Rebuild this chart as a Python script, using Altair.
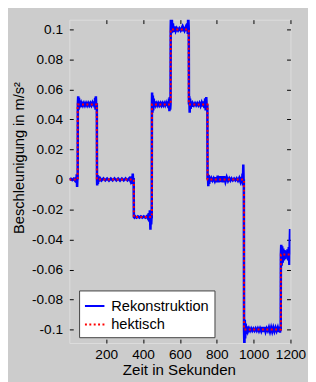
import altair as alt
import pandas as pd

# ---- data ----
x_ticks = [200, 400, 600, 800, 1000, 1200]
y_ticks = [-0.1, -0.08, -0.06, -0.04, -0.02, 0, 0.02, 0.04, 0.06, 0.08, 0.1]
series_names = ["Rekonstruktion", "hektisch"]

# "hektisch": ideal step profile
red_t = [0, 45, 45, 149, 149, 350, 350, 448, 448, 550, 550, 648, 648, 750, 750, 948, 948, 1148, 1148, 1200]
red_v = [0, 0, 0.05, 0.05, 0, 0, -0.025, -0.025, 0.05, 0.05, 0.1, 0.1, 0.05, 0.05, 0, 0, -0.1, -0.1, -0.05, -0.05]

# "Rekonstruktion": reconstructed signal with ringing (time, value)
blue = [
    (0, 0), (8, 0.0005), (16, -0.0004), (24, 0.0005), (30, -0.0006), (35, 0.001), (38, -0.002), (40, 0.0035), (42, -0.005), (44, 0.002), (45, 0),
    (46, 0.05), (48, 0.0555), (50, 0.0465), (52, 0.0545), (54, 0.0475), (57, 0.0525), (60, 0.0485), (65, 0.051), (70, 0.0494), (75, 0.0508), (80, 0.0493), (85, 0.0508), (90, 0.0494), (95, 0.0508), (100, 0.0493), (105, 0.0508), (110, 0.0494), (115, 0.0508), (120, 0.0494), (125, 0.051), (130, 0.049), (134, 0.052), (137, 0.048), (140, 0.0545), (142, 0.0465), (144, 0.0555), (146, 0.047), (148, 0.05), (149, 0.05),
    (150, 0), (151, -0.004), (153, 0.003), (155, -0.003), (158, 0.002), (162, -0.0012), (167, 0.0008), (175, -0.0006), (185, 0.0007), (195, -0.0006), (205, 0.0006), (215, -0.0007), (225, 0.0006), (235, -0.0006), (245, 0.0007), (255, -0.0006), (265, 0.0006), (275, -0.0007), (285, 0.0006), (295, -0.0006), (305, 0.0007), (315, -0.0006), (325, 0.0008), (332, -0.0012), (337, 0.002), (341, -0.003), (344, 0.004), (347, -0.003), (349, 0.001),
    (350, -0.025), (353, -0.0254), (358, -0.0246), (365, -0.0254), (372, -0.0246), (380, -0.0254), (388, -0.0246), (396, -0.0254), (404, -0.0246), (412, -0.0254), (420, -0.0245), (427, -0.026), (431, -0.0225), (434, -0.028), (437, -0.0205), (440, -0.0335), (442, -0.021), (444, -0.03), (446, -0.025), (447, -0.025),
    (448, 0.05), (449, 0.058), (451, 0.0445), (453, 0.056), (455, 0.046), (458, 0.054), (461, 0.048), (465, 0.052), (470, 0.0494), (475, 0.0508), (480, 0.0493), (485, 0.0508), (490, 0.0494), (495, 0.0508), (500, 0.0493), (505, 0.0508), (510, 0.0494), (515, 0.0508), (520, 0.0494), (525, 0.051), (530, 0.049), (534, 0.052), (538, 0.0475), (541, 0.054), (543, 0.0455), (545, 0.055), (547, 0.0465), (549, 0.05),
    (550, 0.1), (552, 0.112), (554, 0.0975), (556, 0.108), (559, 0.098), (562, 0.104), (566, 0.0985), (571, 0.102), (577, 0.099), (583, 0.1008), (590, 0.0993), (597, 0.1008), (604, 0.0993), (611, 0.1012), (615, 0.0988), (618, 0.1012), (625, 0.0992), (631, 0.1012), (636, 0.099), (640, 0.104), (643, 0.097), (645, 0.11), (648, 0.1),
    (649, 0.05), (651, 0.0555), (653, 0.0445), (655, 0.054), (658, 0.047), (661, 0.052), (665, 0.0485), (670, 0.0508), (676, 0.0494), (682, 0.0508), (688, 0.0494), (694, 0.0508), (700, 0.0494), (706, 0.051), (712, 0.049), (718, 0.0512), (724, 0.0488), (729, 0.052), (733, 0.0475), (737, 0.054), (740, 0.046), (743, 0.055), (746, 0.047), (749, 0.05),
    (750, 0), (752, 0.0037), (754, -0.0045), (756, 0.003), (759, -0.003), (762, 0.002), (766, -0.0012), (771, 0.0008), (777, -0.0007), (783, 0.0008), (789, -0.001), (795, 0.0015), (800, -0.0018), (805, 0.0025), (810, -0.0018), (815, 0.0022), (820, -0.0016), (826, 0.0022), (833, -0.0018), (840, 0.0022), (847, -0.0015), (854, 0.0015), (861, -0.001), (868, 0.0008), (874, -0.0007), (880, 0.0007), (887, -0.0006), (894, 0.0006), (901, -0.0006), (908, 0.0007), (915, -0.0008), (922, 0.001), (928, -0.0012), (933, 0.0018), (937, -0.0025), (940, 0.004), (942, -0.004), (944, 0.01), (946, -0.003), (947, 0),
    (948, -0.1), (950, -0.112), (952, -0.0935), (954, -0.106), (957, -0.096), (960, -0.103), (964, -0.098), (969, -0.1012), (975, -0.0992), (981, -0.1008), (987, -0.0993), (993, -0.1008), (999, -0.0994), (1005, -0.1008), (1011, -0.0993), (1017, -0.1008), (1023, -0.0992), (1029, -0.101), (1035, -0.0992), (1041, -0.101), (1047, -0.0984), (1053, -0.1016), (1059, -0.0984), (1065, -0.1014), (1071, -0.0992), (1077, -0.1008), (1083, -0.0986), (1089, -0.1014), (1095, -0.0986), (1101, -0.1014), (1107, -0.0986), (1113, -0.1012), (1119, -0.0988), (1125, -0.101), (1131, -0.0988), (1136, -0.1015), (1140, -0.098), (1143, -0.102), (1146, -0.1), (1147, -0.1),
    (1148, -0.05), (1150, -0.0435), (1152, -0.0575), (1155, -0.0445), (1158, -0.0555), (1161, -0.046), (1164, -0.054), (1168, -0.047), (1172, -0.053), (1176, -0.048), (1180, -0.052), (1184, -0.0465), (1188, -0.054), (1191, -0.045), (1194, -0.057), (1196, -0.042), (1198, -0.033), (1200, -0.05),
]

blue_df = pd.DataFrame(blue, columns=["t", "v"])
blue_df["series"] = series_names[0]
blue_df["i"] = range(len(blue_df))
red_df = pd.DataFrame({"t": red_t, "v": red_v})
red_df["series"] = series_names[1]
red_df["i"] = range(len(red_df))

FONT = "Liberation Sans"
x_scale = alt.Scale(domain=[0, 1200], nice=False, zero=False)
y_scale = alt.Scale(domain=[-0.109, 0.1065], nice=False, zero=False)

color_scale = alt.Scale(domain=series_names, range=["#0000ff", "#ff0000"])
dash_scale = alt.Scale(domain=series_names, range=[[1, 0], [2, 2.5]])

legend = alt.Legend(
    orient="none", legendX=10, legendY=278, title=None,
    fillColor="white", strokeColor="#404040", padding=5, cornerRadius=0,
    symbolType="stroke", symbolSize=400, symbolStrokeWidth=2,
    labelFontSize=15, labelFont=FONT, labelColor="black",
    rowPadding=0, labelOffset=6,
)

x_bottom = alt.Axis(
    orient="bottom", values=x_ticks, format="d", offset=-4, tickSize=4, domain=False, grid=False,
    labelPadding=5, labelFlush=False, labelOverlap=False, labelFontSize=14, labelFont=FONT,
    labelColor="black", tickColor="black",
    title="Zeit in Sekunden", titleFontSize=15.5, titleFont=FONT, titleFontWeight="normal",
    titleColor="black", titleX=112.5, titleY=36, titleBaseline="alphabetic", titleAlign="center",
)
y_left = alt.Axis(
    orient="left", values=y_ticks, offset=-4, tickSize=4, domain=False, grid=False,
    labelPadding=7, labelFlush=False, labelOverlap=False, labelFontSize=14, labelFont=FONT,
    labelColor="black", tickColor="black",
    labelExpr="datum.value < 0 ? '-' + format(-datum.value, '~g') : format(datum.value, '~g')",
    title="Beschleunigung in m/s²", titleFontSize=15, titleFont=FONT, titleFontWeight="normal",
    titleColor="black", titleX=-56, titleY=141.5, titleAngle=270, titleBaseline="middle", titleAlign="center",
)
x_top = alt.Axis(orient="top", values=x_ticks, offset=-4, tickSize=4, domain=False, grid=False,
                 labels=False, title=None, tickColor="black")
y_right = alt.Axis(orient="right", values=y_ticks, offset=-4, tickSize=4, domain=False, grid=False,
                   labels=False, title=None, tickColor="black")

blue_line = alt.Chart(blue_df).mark_line(strokeWidth=2.6, clip=True, interpolate="linear").encode(
    x=alt.X("t:Q", scale=x_scale, axis=x_bottom),
    y=alt.Y("v:Q", scale=y_scale, axis=y_left),
    order="i:Q",
    color=alt.Color("series:N", scale=color_scale, legend=legend),
    strokeDash=alt.StrokeDash("series:N", scale=dash_scale, legend=legend),
)

red_line = alt.Chart(red_df).mark_line(strokeWidth=2, clip=True, strokeCap="butt").encode(
    x=alt.X("t:Q", scale=x_scale, axis=None),
    y=alt.Y("v:Q", scale=y_scale, axis=None),
    order="i:Q",
    color=alt.Color("series:N", scale=color_scale, legend=legend),
    strokeDash=alt.StrokeDash("series:N", scale=dash_scale, legend=legend),
)

frame_axes = alt.Chart(red_df).mark_line(opacity=0).encode(
    x=alt.X("t:Q", scale=x_scale, axis=x_top),
    y=alt.Y("v:Q", scale=y_scale, axis=y_right),
)

chart = alt.layer(blue_line, red_line, frame_axes).resolve_axis(
    x="independent", y="independent"
).properties(
    width=227, height=332,
    autosize=alt.AutoSizeParams(type="none"),
    padding={"left": 63, "top": 7, "right": 18, "bottom": 35},
    background="#cccccc",
).configure_view(
    fill="white", stroke="black", strokeWidth=1,
).configure(font=FONT)

chart.save("out.html", embed_options={"renderer": "svg", "actions": False})
